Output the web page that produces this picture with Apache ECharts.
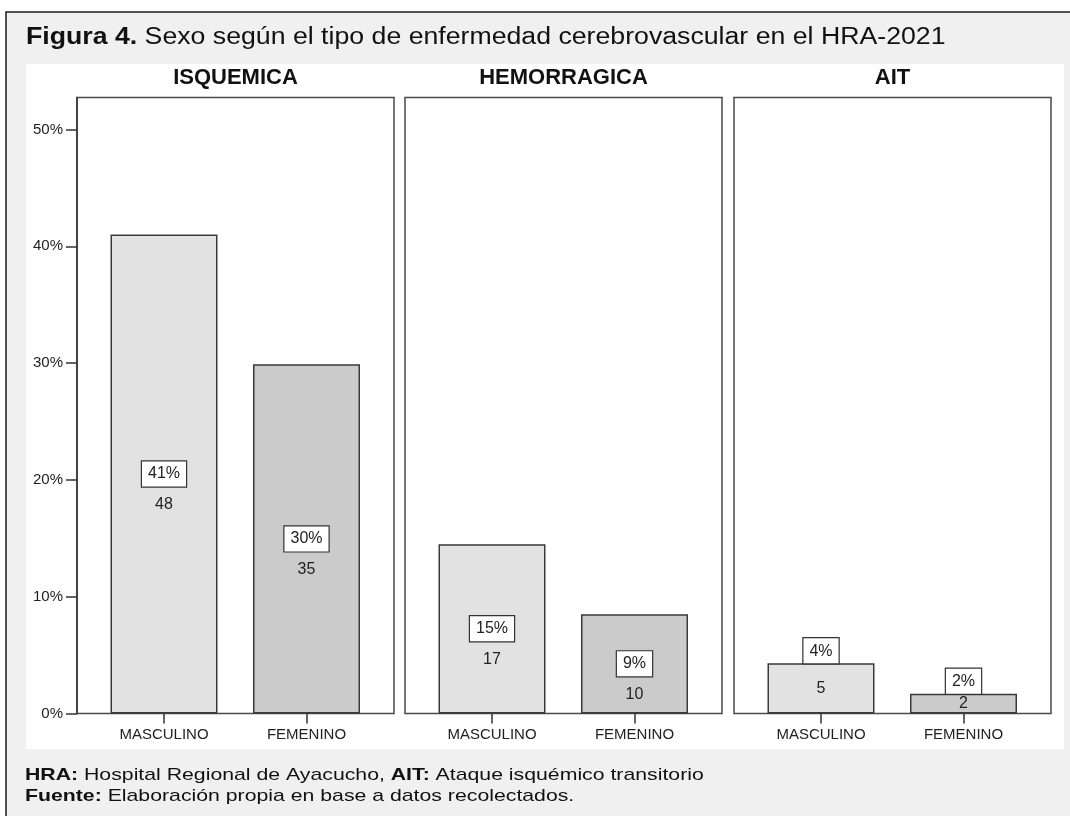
<!DOCTYPE html>
<html>
<head>
<meta charset="utf-8">
<title>Figura 4</title>
<script src="https://cdn.jsdelivr.net/npm/echarts@6/dist/echarts.min.js"></script>
<style>
  html, body { margin: 0; padding: 0; background: #ffffff; }
  #chart { width: 1070px; height: 816px; }
</style>
</head>
<body>
<div id="chart"></div>
<script>
// Tipo de enfermedad cerebrovascular (one panel each) and sex categories
const panelNames = ['ISQUEMICA', 'HEMORRAGICA', 'AIT'];
const sexCategories = ['MASCULINO', 'FEMENINO'];

// Percentage of all patients, per panel
const pctMasculino = [41.0, 14.5, 4.3];
const pctFemenino = [29.9, 8.5, 1.7];

// Patient counts, per panel
const countMasculino = [48, 17, 5];
const countFemenino = [35, 10, 2];

// Y axis tick values (percent)
const yTickValues = [0, 10, 20, 30, 40, 50];

const FONT = '"Liberation Sans", Arial, Helvetica, sans-serif';
const TEXT = '#222222';
const COLOR_M = '#e2e2e2';
const COLOR_F = '#cbcbcb';
const BAR_EDGE = '#3a3a3a';

// Panel layout
const panelLeft = [77, 405, 734];
const panelWidth = 317;
const plotTop = 97.5;
const plotHeight = 616;
const yMax = 52.74;

const chart = echarts.init(document.getElementById('chart'), null, { renderer: 'canvas' });

function isTall(v) { return v >= 6; }

function countLabel(v, n) {
  return {
    show: true,
    position: 'inside',
    offset: isTall(v) ? [0, 31] : [0, 0],
    formatter: String(n),
    fontFamily: FONT,
    fontSize: 16,
    color: TEXT
  };
}

function pctLabel(v) {
  return {
    show: true,
    position: isTall(v) ? 'inside' : 'top',
    distance: 0,
    formatter: Math.round(v) + '%',
    fontFamily: FONT,
    fontSize: 16,
    lineHeight: 18,
    color: TEXT,
    backgroundColor: '#ffffff',
    borderColor: '#333333',
    borderWidth: 1.2,
    padding: [4, 6, 3, 6]
  };
}

const grids = [];
const xAxes = [];
const yAxes = [];
const series = [];
const graphics = [];

// Page frame, grey surround and white chart area
graphics.push({
  type: 'rect', z: -10, silent: true,
  shape: { x: 6, y: 12, width: 1100, height: 840 },
  style: { fill: '#f0f0f0', stroke: '#1a1a1a', lineWidth: 1.5 }
});
graphics.push({
  type: 'rect', z: -9, silent: true,
  shape: { x: 26, y: 64, width: 1038, height: 685 },
  style: { fill: '#ffffff' }
});

// Figure caption (set in a wide face, so it is stretched horizontally)
graphics.push({
  type: 'text', silent: true,
  x: 26, y: 38, scaleX: 1.16,
  style: {
    text: '{b|Figura 4.} Sexo según el tipo de enfermedad cerebrovascular en el HRA-2021',
    fontFamily: FONT, fontSize: 23, fill: '#111', verticalAlign: 'middle',
    rich: { b: { fontFamily: FONT, fontSize: 23, fontWeight: 'bold', fill: '#111' } }
  }
});

// Footnotes
graphics.push({
  type: 'text', silent: true,
  x: 25, y: 775, scaleX: 1.25,
  style: {
    text: '{b|HRA:} Hospital Regional de Ayacucho, {b|AIT:} Ataque isquémico transitorio',
    fontFamily: FONT, fontSize: 17, fill: '#111', verticalAlign: 'middle',
    rich: { b: { fontFamily: FONT, fontSize: 17, fontWeight: 'bold', fill: '#111' } }
  }
});
graphics.push({
  type: 'text', silent: true,
  x: 25, y: 796, scaleX: 1.25,
  style: {
    text: '{b|Fuente:} Elaboración propia en base a datos recolectados.',
    fontFamily: FONT, fontSize: 17, fill: '#111', verticalAlign: 'middle',
    rich: { b: { fontFamily: FONT, fontSize: 17, fontWeight: 'bold', fill: '#111' } }
  }
});

panelNames.forEach(function (name, i) {
  // Panel heading
  graphics.push({
    type: 'text', silent: true,
    x: panelLeft[i] + panelWidth / 2, y: 78,
    style: {
      text: name, fontFamily: FONT, fontSize: 22, fontWeight: 'bold',
      fill: '#111', align: 'center', verticalAlign: 'middle'
    }
  });

  // Frame grid: bordered panel, carries the percent axis on the first panel
  grids.push({
    left: panelLeft[i], top: plotTop, width: panelWidth, height: plotHeight,
    show: true, backgroundColor: '#ffffff', borderColor: '#4a4a4a', borderWidth: 1.5
  });
  xAxes.push({ gridIndex: i, type: 'category', data: sexCategories, show: false });
  yAxes.push({
    gridIndex: i, type: 'value', min: 0, max: yMax,
    show: i === 0,
    splitLine: { show: false },
    axisLine: { show: true, lineStyle: { color: '#333', width: 1.5 } },
    axisTick: { show: true, length: 11, customValues: yTickValues, lineStyle: { color: '#333', width: 1.5 } },
    axisLabel: {
      customValues: yTickValues,
      formatter: function (v) { return v + '%'; },
      margin: 14, fontFamily: FONT, fontSize: 15, color: TEXT
    }
  });
});

panelNames.forEach(function (name, i) {
  const g = panelNames.length + i;
  // Data grid: two bar slots inside the panel
  grids.push({ left: panelLeft[i] + 15.75, top: plotTop, width: 285, height: plotHeight });
  xAxes.push({
    gridIndex: g, type: 'category', data: sexCategories,
    axisLine: { show: false },
    axisTick: { show: true, alignWithLabel: true, length: 10, lineStyle: { color: '#333', width: 1.5 } },
    axisLabel: { margin: 14, fontFamily: FONT, fontSize: 15, color: TEXT }
  });
  yAxes.push({ gridIndex: g, type: 'value', min: 0, max: yMax, show: false, splitLine: { show: false } });

  const vals = [pctMasculino[i], pctFemenino[i]];
  const counts = [countMasculino[i], countFemenino[i]];
  const fills = [COLOR_M, COLOR_F];

  series.push({
    name: name,
    type: 'bar', xAxisIndex: g, yAxisIndex: g,
    barWidth: 107, barGap: '-100%',
    silent: true, z: 2,
    data: vals.map(function (v, k) {
      return {
        value: v,
        itemStyle: { color: fills[k], borderColor: BAR_EDGE, borderWidth: 1.5 },
        label: countLabel(v, counts[k])
      };
    })
  });
  series.push({
    name: name + ' %',
    type: 'bar', xAxisIndex: g, yAxisIndex: g,
    barWidth: 107, barGap: '-100%',
    silent: true, z: 4,
    data: vals.map(function (v) {
      return {
        value: v,
        itemStyle: { color: 'rgba(0,0,0,0)', borderWidth: 0 },
        label: pctLabel(v)
      };
    })
  });
});

chart.setOption({
  animation: false,
  backgroundColor: '#ffffff',
  grid: grids,
  xAxis: xAxes,
  yAxis: yAxes,
  series: series,
  graphic: { elements: graphics }
});
</script>
</body>
</html>
